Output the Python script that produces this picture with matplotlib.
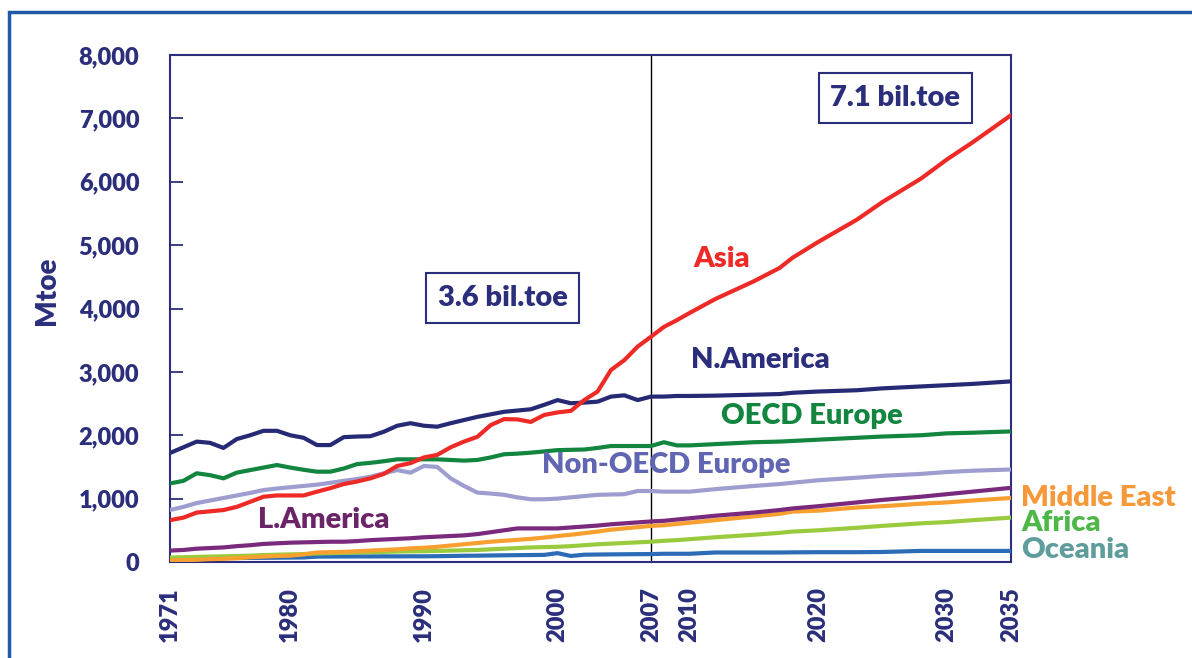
import numpy as np
import matplotlib
matplotlib.use('Agg')
import matplotlib.pyplot as plt
from matplotlib.patches import Rectangle
from matplotlib.transforms import blended_transform_factory

# history (annual) 1971-2007
hist_years = list(range(1971, 2008))
# outlook points 2007-2035
proj_years = [2007, 2008, 2009, 2010, 2012, 2015, 2017, 2018, 2020, 2023, 2025, 2028, 2030, 2032, 2035]

asia_hist = [660, 700, 780, 800, 820, 870, 950, 1030, 1050, 1050, 1050, 1110, 1165, 1230, 1270,
             1320, 1390, 1515, 1560, 1650, 1690, 1810, 1900, 1975, 2160, 2255, 2250, 2210, 2320,
             2360, 2385, 2555, 2690, 3030, 3185, 3400, 3555]
asia_proj = [3555, 3710, 3815, 3930, 4150, 4430, 4640, 4800, 5050, 5400, 5680, 6050, 6350, 6620, 7050]

namerica_hist = [1720, 1810, 1900, 1880, 1800, 1940, 2000, 2070, 2070, 2000, 1960, 1845, 1845,
                 1970, 1980, 1985, 2055, 2150, 2190, 2150, 2135, 2190, 2240, 2290, 2330, 2370,
                 2390, 2410, 2480, 2555, 2505, 2515, 2530, 2610, 2630, 2555, 2610]
namerica_proj = [2610, 2610, 2620, 2620, 2625, 2640, 2650, 2670, 2690, 2710, 2740, 2770, 2790, 2810, 2850]

oecd_eur_hist = [1240, 1280, 1400, 1370, 1320, 1410, 1450, 1490, 1530, 1490, 1455, 1425, 1425,
                 1475, 1545, 1565, 1590, 1620, 1620, 1620, 1620, 1610, 1600, 1610, 1650, 1700,
                 1710, 1725, 1745, 1765, 1770, 1775, 1800, 1830, 1830, 1830, 1830]
oecd_eur_proj = [1830, 1890, 1840, 1840, 1860, 1890, 1900, 1910, 1930, 1960, 1980, 2000, 2030, 2040, 2060]

nonoecd_eur_hist = [820, 870, 930, 970, 1010, 1050, 1090, 1135, 1160, 1180, 1200, 1220, 1250,
                    1280, 1310, 1345, 1400, 1450, 1410, 1515, 1500, 1320, 1200, 1095, 1080, 1060,
                    1020, 990, 990, 1000, 1020, 1040, 1060, 1065, 1070, 1120, 1120]
nonoecd_eur_proj = [1120, 1110, 1110, 1110, 1150, 1200, 1230, 1250, 1290, 1330, 1360, 1390, 1420, 1440, 1460]

lamerica_hist = [180, 190, 210, 220, 230, 250, 265, 285, 295, 305, 310, 315, 320, 320, 330,
                 345, 355, 365, 375, 390, 400, 410, 420, 440, 470, 500, 530, 530, 530, 530,
                 545, 560, 575, 595, 610, 625, 640]
lamerica_proj = [640, 650, 670, 690, 730, 780, 820, 845, 880, 940, 980, 1030, 1070, 1110, 1170]

mideast_hist = [25, 30, 35, 45, 50, 60, 75, 85, 95, 100, 120, 150, 155, 160, 170,
                180, 190, 200, 215, 225, 240, 260, 280, 300, 320, 335, 350, 365, 385, 410,
                430, 455, 480, 510, 530, 550, 570]
mideast_proj = [570, 580, 600, 620, 660, 720, 760, 795, 810, 860, 880, 920, 940, 970, 1010]

africa_hist = [70, 75, 80, 85, 90, 95, 100, 110, 115, 120, 125, 135, 140, 145, 150,
               155, 160, 165, 168, 170, 175, 180, 185, 190, 200, 210, 220, 230, 235, 240,
               250, 265, 280, 290, 300, 310, 320]
africa_proj = [320, 335, 345, 360, 390, 430, 460, 480, 500, 540, 570, 610, 630, 660, 700]

oceania_hist = [55, 57, 58, 60, 62, 63, 65, 66, 68, 70, 72, 85, 86, 87, 88,
                88, 89, 89, 90, 90, 92, 95, 98, 100, 103, 106, 108, 110, 112, 140,
                95, 115, 118, 120, 122, 124, 125]
oceania_proj = [125, 130, 130, 130, 150, 150, 150, 152, 155, 155, 158, 175, 175, 175, 175]

series = [
    ('Oceania', oceania_hist, oceania_proj, '#2c6cb6'),
    ('Africa', africa_hist, africa_proj, '#9acb3e'),
    ('Middle East', mideast_hist, mideast_proj, '#f7a030'),
    ('L.America', lamerica_hist, lamerica_proj, '#7a2a7c'),
    ('Non-OECD Europe', nonoecd_eur_hist, nonoecd_eur_proj, '#9d9dd0'),
    ('OECD Europe', oecd_eur_hist, oecd_eur_proj, '#12853f'),
    ('N.America', namerica_hist, namerica_proj, '#262a75'),
    ('Asia', asia_hist, asia_proj, '#ee2a27'),
]

tick_years = [1971, 1980, 1990, 2000, 2007, 2010, 2020, 2030, 2035]

NAVY = '#2b2e7a'
FONT = 'Lato'
WT = 'heavy'

# the history part of the axis is a bit wider per year than the outlook part
brk_yr = [1971, 2007, 2035]
brk_u = [0.0, 36.0, 36.0 + 28 * 0.962]


def fwd(x):
    return np.interp(x, brk_yr, brk_u)


def inv(u):
    return np.interp(u, brk_u, brk_yr)


fig = plt.figure(figsize=(11.92, 6.58), dpi=100)
ax = fig.add_axes([170 / 1192, 1 - 562 / 658, (1011 - 170) / 1192, (562 - 55) / 658])
ax.set_xscale('function', functions=(fwd, inv))

for name, h, p, c in series:
    xs = hist_years + proj_years[1:]
    ys = h + p[1:]
    ax.plot(xs, ys, color=c, lw=3, solid_joinstyle='round', zorder=3)

ax.axvline(2007, color='black', lw=1, zorder=2)

ax.set_xlim(1971, 2035)
ax.set_ylim(0, 8000)
ax.set_yticks(np.arange(0, 8001, 1000))
ax.set_yticklabels(['{:,}'.format(v) for v in range(0, 8001, 1000)],
                   fontsize=17, fontweight=WT, color=NAVY, family=FONT)
ax.set_xticks(tick_years)
ax.set_xticklabels([str(y) for y in tick_years], rotation=90,
                   fontsize=17, fontweight=WT, color=NAVY, family=FONT)
ax.minorticks_off()
ax.tick_params(axis='y', direction='in', length=9, width=1.3, color=NAVY, pad=22)
ax.tick_params(axis='x', length=0, pad=18)
for s in ax.spines.values():
    s.set_color(NAVY)
    s.set_linewidth(1.5)

ax.set_ylabel('Mtoe', fontsize=20, fontweight=WT, color=NAVY, family=FONT)
ax.yaxis.set_label_coords(-110 / 841, 0.535)

lbl = dict(fontweight=WT, family=FONT, ha='center', va='center', zorder=5)
ax.text(2012.5, 4780, 'Asia', color='#ee2a27', fontsize=21, **lbl)
ax.text(2015.5, 3185, 'N.America', color=NAVY, fontsize=21, **lbl)
ax.text(2019.5, 2300, 'OECD Europe', color='#12853f', fontsize=21, **lbl)
ax.text(2008.2, 1530, 'Non-OECD Europe', color='#6166b3', fontsize=21, **lbl)
ax.text(1982.5, 660, 'L.America', color='#6b2468', fontsize=21, **lbl)

box = dict(boxstyle='square,pad=0.4', fc='white', ec=NAVY, lw=1.5)
ax.text(1995.9, 4165, '3.6 bil.toe', color=NAVY, fontsize=21, bbox=box, **lbl)
ax.text(2026.0, 7320, '7.1 bil.toe', color=NAVY, fontsize=21, bbox=box, **lbl)

# region names to the right of the plot
trans = blended_transform_factory(ax.transAxes, ax.transData)
side = dict(fontweight=WT, family=FONT, ha='left', va='center', fontsize=21,
            clip_on=False, transform=trans)
ax.text(1.012, 1010, 'Middle East', color='#f7993a', **side)
ax.text(1.012, 620, 'Africa', color='#4db848', **side)
ax.text(1.012, 195, 'Oceania', color='#5f9c9c', **side)

# outer frame, open to the right and bottom
fig.patches.append(Rectangle((9 / 1192, -0.1), 1.2, 1.1 - 12 / 658, transform=fig.transFigure,
                             fill=False, ec='#1f5aa8', lw=2.5))

fig.savefig('out.png', dpi=100)
